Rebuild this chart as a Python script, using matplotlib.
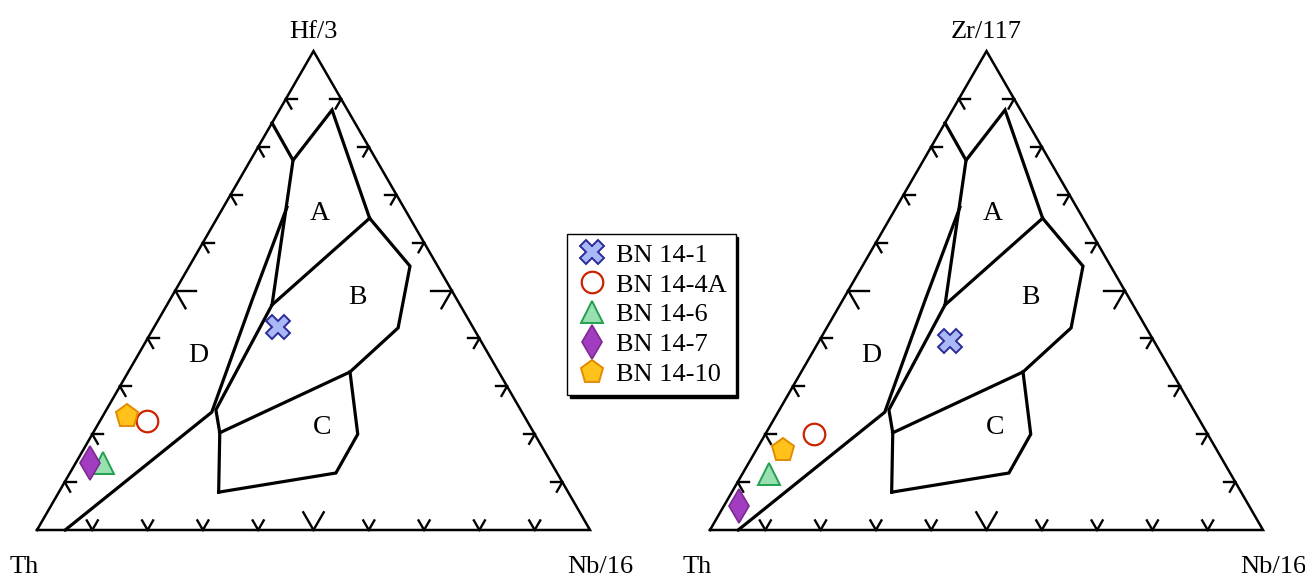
import matplotlib
matplotlib.use("Agg")
import matplotlib.pyplot as plt
import numpy as np

plt.rcParams['font.family'] = ['Liberation Serif', 'DejaVu Serif']

# ternary compositions as (top, right) fractions; left = 1 - top - right
samples = ['BN 14-1', 'BN 14-4A', 'BN 14-6', 'BN 14-7', 'BN 14-10']
hf_top = [0.424, 0.228, 0.140, 0.140, 0.238]
hf_right = [0.224, 0.085, 0.049, 0.026, 0.044]
zr_top = [0.395, 0.200, 0.117, 0.050, 0.167]
zr_right = [0.237, 0.088, 0.049, 0.027, 0.048]

# field boundaries (Wood 1980), same in both diagrams: (top, right)
fields = [
    [(0.0, 0.051), (0.246, 0.193), (0.480, 0.149), (0.674, 0.115)],
    [(0.850, 0.0), (0.772, 0.077), (0.877, 0.095), (0.651, 0.276)],
    [(0.772, 0.077), (0.470, 0.190), (0.251, 0.198), (0.203, 0.229), (0.079, 0.289)],
    [(0.651, 0.276), (0.470, 0.190)],
    [(0.651, 0.276), (0.551, 0.399), (0.422, 0.442), (0.330, 0.401), (0.203, 0.229)],
    [(0.330, 0.401), (0.200, 0.480), (0.119, 0.481), (0.079, 0.289)],
]
field_names = ['A', 'B', 'C', 'D']
field_xy = [(0.512, 0.573), (0.580, 0.421), (0.515, 0.186), (0.291, 0.316)]

marker_style = [
    dict(marker='X', ms=17.5, mfc='#a9b9f5', mec='#2b2b99', mew=1.4),
    dict(marker='o', ms=15.5, mfc='white', mec='#cc2200', mew=1.6),
    dict(marker='^', ms=16, mfc='#99e0b0', mec='#22a050', mew=1.4),
    dict(marker='d', ms=17.5, mfc='#a23cc0', mec='#7b2a8f', mew=1.2),
    dict(marker='p', ms=17, mfc='#ffc21a', mec='#e48a00', mew=1.4),
]

W, H, S = 1305, 577, 553.0
H3 = np.sqrt(3) / 2


def to_xy(top, right):
    top = np.asarray(top)
    right = np.asarray(right)
    return right + top / 2, top * H3


fig = plt.figure(figsize=(W / 100, H / 100), dpi=100)


def diagram(x0, top_label, tops, rights):
    ax = fig.add_axes([0, 0, 1, 1])
    ax.set_xlim(-x0 / S, (W - x0) / S)
    ax.set_ylim(-(H - 530) / S, 530 / S)
    ax.axis('off')
    ax.patch.set_alpha(0)
    ax.plot([0, 1, 0.5, 0], [0, 0, H3, 0], color='k', lw=1.8, solid_joinstyle='miter')

    # arrow-like ticks on each side
    corners = [np.array([0, 0]), np.array([1, 0]), np.array([0.5, H3])]
    sides = [
        (corners[0], corners[1], [(-0.5, H3), (0.5, H3)]),
        (corners[0], corners[2], [(1, 0), (0.5, -H3)]),
        (corners[1], corners[2], [(-1, 0), (-0.5, -H3)]),
    ]
    for p0, p1, dirs in sides:
        for t in np.arange(1, 10) / 10:
            p = p0 + (p1 - p0) * t
            L = 0.037 if abs(t - 0.5) < 1e-6 else 0.02
            for d in dirs:
                ax.plot([p[0], p[0] + d[0] * L], [p[1], p[1] + d[1] * L],
                        color='k', lw=1.7)

    for f in fields:
        t, r = zip(*f)
        x, y = to_xy(t, r)
        ax.plot(x, y, color='k', lw=2.3, solid_joinstyle='miter')
    for name, (fx, fy) in zip(field_names, field_xy):
        ax.text(fx, fy, name, fontsize=20, ha='center', va='center')

    ax.text(0.5, H3 + 13 / S, top_label, fontsize=19, ha='center', va='baseline')
    ax.text(-13 / S, -43 / S, 'Th', fontsize=19, ha='center', va='baseline')
    ax.text(1 + 10 / S, -43 / S, 'Nb/16', fontsize=19, ha='center', va='baseline')

    handles = []
    for i, st in enumerate(marker_style):
        x, y = to_xy(tops[i], rights[i])
        h, = ax.plot([x], [y], ls='none', label=samples[i], **st)
        handles.append(h)
    return handles


handles = diagram(37, 'Hf/3', hf_top, hf_right)
diagram(710, 'Zr/117', zr_top, zr_right)

leg = fig.legend(handles=handles, loc='upper left',
                 bbox_to_anchor=(567 / W, 1 - 234 / H), fontsize=19,
                 frameon=True, fancybox=False, edgecolor='k',
                 shadow={'color': 'k', 'alpha': 1}, labelspacing=0.24,
                 handletextpad=0.3, handlelength=1.2, borderpad=0.35,
                 borderaxespad=0)
leg.get_frame().set_linewidth(1.0)

fig.savefig('out.png', dpi=100)
